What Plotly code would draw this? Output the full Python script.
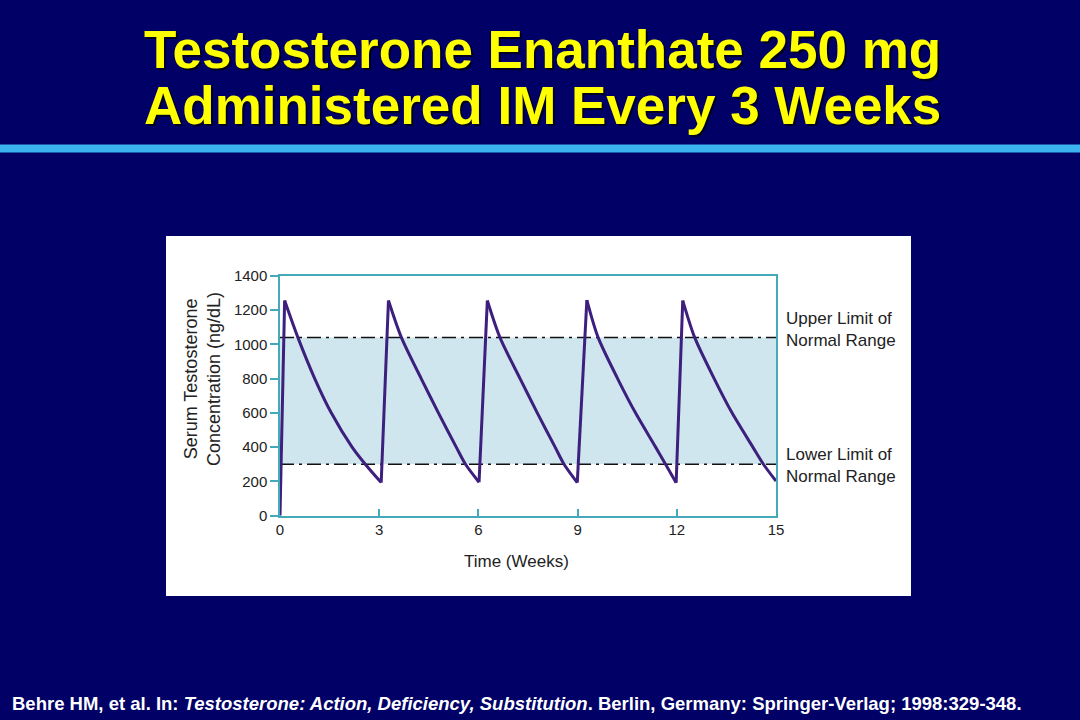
import plotly.graph_objects as go

# ---- data ----
time_weeks = [0, 0.14, 0.54, 1.05, 1.55, 2.18, 2.58, 3.06,
              3.28, 3.67, 4.27, 4.79, 5.33, 5.61, 6.02,
              6.27, 6.65, 7.26, 7.78, 8.32, 8.59, 8.99,
              9.28, 9.62, 10.21, 10.75, 11.36, 11.66, 11.98,
              12.18, 12.54, 13.13, 13.67, 14.3, 14.62, 15.0]
concentration = [0, 1255, 1040, 800, 600, 400, 300, 193,
                 1255, 1040, 800, 600, 400, 300, 195,
                 1255, 1040, 800, 600, 400, 300, 193,
                 1258, 1040, 800, 600, 400, 300, 192,
                 1255, 1040, 800, 600, 400, 300, 202]
normal_upper = 1040
normal_lower = 300
x_range = [0, 15]
x_ticks = [0, 3, 6, 9, 12, 15]
y_ticks = [0, 200, 400, 600, 800, 1000, 1200, 1400]

W, H = 1080, 720
def px(x):
    return x / W
def py(y):
    return 1 - y / H

NAVY = "#000066"
TEAL = "#45a9b9"
PURPLE = "#3d1f7e"
FONT = "Liberation Sans, Arial, sans-serif"

fig = go.Figure()

# normal range band
fig.add_trace(go.Scatter(x=[x_range[0], x_range[1]], y=[normal_lower, normal_lower],
                         mode="lines", line=dict(width=0), showlegend=False, hoverinfo="skip"))
fig.add_trace(go.Scatter(x=[x_range[0], x_range[1]], y=[normal_upper, normal_upper],
                         mode="lines", line=dict(width=0), fill="tonexty",
                         fillcolor="#cfe6ee", showlegend=False, hoverinfo="skip"))
# limit lines
for lim in (normal_upper, normal_lower):
    fig.add_trace(go.Scatter(x=[x_range[0], x_range[1]], y=[lim, lim], mode="lines",
                             line=dict(color="#111111", width=1.5, dash="14px,5px,3px,5px"),
                             showlegend=False, hoverinfo="skip"))

# concentration curve: split into rising (straight) and decaying (smooth) segments
segments = []
start = 0
for i in range(1, len(concentration)):
    rising_prev = concentration[i - 1] < concentration[i]
    if i + 1 < len(concentration):
        rising_next = concentration[i] < concentration[i + 1]
        if rising_prev != rising_next:
            segments.append((start, i, rising_prev))
            start = i
    else:
        segments.append((start, i, rising_prev))
for s, e, rising in segments:
    fig.add_trace(go.Scatter(
        x=time_weeks[s:e + 1], y=concentration[s:e + 1], mode="lines",
        line=dict(color=PURPLE, width=3, shape="linear" if rising else "spline",
                  smoothing=0.8),
        showlegend=False))

shapes = [
    dict(type="rect", xref="paper", yref="paper", x0=0, x1=1, y0=0, y1=1,
         fillcolor=NAVY, line=dict(width=0), layer="below"),
    dict(type="rect", xref="paper", yref="paper", x0=0, x1=1, y0=py(152.5), y1=py(144.5),
         fillcolor="#3cb4f0", line=dict(width=0), layer="below"),
    dict(type="rect", xref="paper", yref="paper", x0=px(166), x1=px(911), y0=py(596), y1=py(236),
         fillcolor="white", line=dict(width=0), layer="below"),
]

annotations = []
for line, yc in (("Testosterone Enanthate 250 mg", 50), ("Administered IM Every 3 Weeks", 105)):
    annotations.append(dict(text="<b>" + line + "</b>", x=px(544), y=py(yc + 2), xref="paper",
                            yref="paper", showarrow=False,
                            font=dict(family=FONT, size=53, color="#000022"),
                            xanchor="center", yanchor="middle"))
    annotations.append(dict(text="<b>" + line + "</b>", x=px(542), y=py(yc), xref="paper",
                            yref="paper", showarrow=False,
                            font=dict(family=FONT, size=53, color="#ffff00"),
                            xanchor="center", yanchor="middle"))
annotations.append(dict(text="Serum Testosterone<br>Concentration (ng/dL)", x=px(202), y=py(379),
                        xref="paper", yref="paper", showarrow=False, textangle=-90,
                        font=dict(family=FONT, size=18, color="#222222"),
                        xanchor="center", yanchor="middle"))
annotations.append(dict(text="Time (Weeks)", x=px(516), y=py(561), xref="paper", yref="paper",
                        showarrow=False, font=dict(family=FONT, size=17, color="#222222"),
                        xanchor="center", yanchor="middle"))
annotations.append(dict(text="Upper Limit of<br>Normal Range", x=px(784), y=py(330),
                        xref="paper", yref="paper", showarrow=False, align="left",
                        font=dict(family=FONT, size=17, color="#222222"),
                        xanchor="left", yanchor="middle"))
annotations.append(dict(text="Lower Limit of<br>Normal Range", x=px(784), y=py(465),
                        xref="paper", yref="paper", showarrow=False, align="left",
                        font=dict(family=FONT, size=17, color="#222222"),
                        xanchor="left", yanchor="middle"))
annotations.append(dict(
    text="<b>Behre HM, et al. In: <i>Testosterone: Action, Deficiency, Substitution</i>. "
         "Berlin, Germany: Springer-Verlag; 1998:329-348.</b>",
    x=px(10), y=py(703), xref="paper", yref="paper", showarrow=False,
    font=dict(family=FONT, size=18.5, color="white"), xanchor="left", yanchor="middle"))

fig.update_layout(
    width=W, height=H, margin=dict(l=0, r=0, t=0, b=0, pad=0, autoexpand=False),
    paper_bgcolor=NAVY, plot_bgcolor="rgba(0,0,0,0)",
    shapes=shapes, annotations=annotations, showlegend=False,
    xaxis=dict(domain=[px(280), px(776)], range=x_range, tickvals=x_ticks, automargin=False,
               showgrid=False, zeroline=False, showline=True, linecolor=TEAL, linewidth=1.5,
               mirror=True, ticks="inside", ticklen=7, tickcolor=TEAL, tickwidth=1.5,
               tickfont=dict(family=FONT, size=15, color="#222222")),
    yaxis=dict(domain=[py(515.7), py(275.7)], range=[0, 1400], tickvals=y_ticks, automargin=False,
               showgrid=False, zeroline=False, showline=True, linecolor=TEAL, linewidth=1.5,
               mirror=True, ticks="outside", ticklen=8, tickcolor=TEAL, tickwidth=1.5,
               tickfont=dict(family=FONT, size=15, color="#222222")),
)

fig.write_html("out.html")
